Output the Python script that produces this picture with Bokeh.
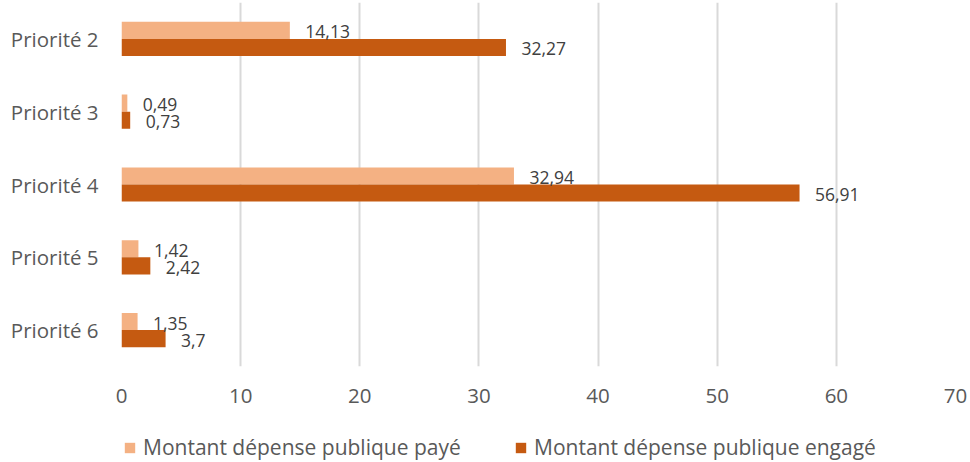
from bokeh.plotting import figure
from bokeh.layouts import column
from bokeh.models import Range1d, FixedTicker, ColumnDataSource, LabelSet, Legend, LegendItem
from bokeh.core.properties import value
from bokeh.embed import file_html
from bokeh.resources import INLINE

categories = ["Priorité 2", "Priorité 3", "Priorité 4", "Priorité 5", "Priorité 6"]
paye = [14.13, 0.49, 32.94, 1.42, 1.35]
engage = [32.27, 0.73, 56.91, 2.42, 3.7]
x_ticks = [0, 10, 20, 30, 40, 50, 60, 70]
series_names = ["Montant dépense publique payé", "Montant dépense publique engagé"]
colors = ["#F4B183", "#C55A11"]

FONT = "Open Sans"
AXIS_COLOR = "#595959"
LABEL_COLOR = "#404040"


def fr(v):
    return f"{v:g}".replace(".", ",")


idx = list(range(len(categories)))
BAR_H = 0.235
OFF = 0.1175

src_p = ColumnDataSource(dict(y=[i - OFF for i in idx], v=paye, t=[fr(v) for v in paye]))
src_e = ColumnDataSource(dict(y=[i + OFF for i in idx], v=engage, t=[fr(v) for v in engage]))

p = figure(width=970, height=430, output_backend="svg", toolbar_location=None,
           x_range=Range1d(x_ticks[0], x_ticks[-1]), y_range=Range1d(4.5, -0.5),
           min_border_left=121, min_border_right=15, min_border_top=2, min_border_bottom=64)
p.outline_line_color = None
p.background_fill_color = "white"
p.border_fill_color = "white"

p.hbar(y="y", right="v", left=0, height=BAR_H, source=src_p, fill_color=colors[0], line_color=None)
p.hbar(y="y", right="v", left=0, height=BAR_H, source=src_e, fill_color=colors[1], line_color=None)

for src in (src_p, src_e):
    p.add_layout(LabelSet(x="v", y="y", text="t", source=src, x_offset=15.5, y_offset=-1.5,
                          text_align="left", text_baseline="middle", text_font=value(FONT),
                          text_font_size="17.5px", text_color=LABEL_COLOR))

# x axis
p.xaxis.ticker = FixedTicker(ticks=x_ticks)
p.xaxis.axis_line_color = None
p.xaxis.major_tick_line_color = None
p.xaxis.minor_tick_line_color = None
p.xaxis.major_tick_out = 0
p.xaxis.major_label_standoff = 22
p.xaxis.major_label_text_font = FONT
p.xaxis.major_label_text_font_size = "20.5px"
p.xaxis.major_label_text_color = AXIS_COLOR

# y axis
p.yaxis.ticker = FixedTicker(ticks=idx)
p.yaxis.major_label_overrides = {i: c for i, c in zip(idx, categories)}
p.yaxis.axis_line_color = None
p.yaxis.major_tick_line_color = None
p.yaxis.minor_tick_line_color = None
p.yaxis.major_tick_out = 0
p.yaxis.major_label_standoff = 23
p.yaxis.major_label_text_font = FONT
p.yaxis.major_label_text_font_size = "20.5px"
p.yaxis.major_label_text_color = AXIS_COLOR

p.xgrid.grid_line_color = "#d9d9d9"
p.xgrid.grid_line_width = 2
p.ygrid.grid_line_color = None

# legend strip (its frame is aligned with the chart frame by the column layout)
p2 = figure(width=970, height=32, output_backend="svg", toolbar_location=None,
            x_range=Range1d(x_ticks[0], x_ticks[-1]), y_range=Range1d(100, 101),
            x_axis_type=None, y_axis_type=None,
            min_border=0, min_border_left=0, min_border_right=0, min_border_top=0, min_border_bottom=0)
p2.outline_line_color = None
p2.xgrid.visible = False
p2.ygrid.visible = False
# same series, outside this strip's visible range: only their legend swatches show
rl1 = p2.hbar(y="y", right="v", left=0, height=BAR_H, source=src_p, fill_color=colors[0], line_color=None)
rl2 = p2.hbar(y="y", right="v", left=0, height=BAR_H, source=src_e, fill_color=colors[1], line_color=None)

for r, name, loc in ((rl1, series_names[0], (2, 1)), (rl2, series_names[1], (393, 1))):
    leg = Legend(items=[LegendItem(label=name, renderers=[r])], location=loc,
                 orientation="horizontal", border_line_color=None, background_fill_alpha=0,
                 padding=0, margin=0, glyph_width=13, glyph_height=13, label_standoff=7,
                 label_text_font=FONT, label_text_font_size="21px", label_text_color=AXIS_COLOR)
    p2.add_layout(leg, "center")

layout = column(p, p2, spacing=0)
open("out.html", "w").write(file_html(layout, INLINE))
